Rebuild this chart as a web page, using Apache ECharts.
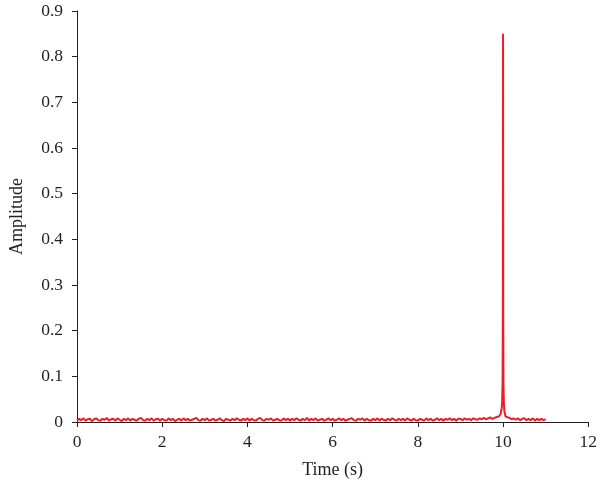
<!DOCTYPE html>
<html><head><meta charset="utf-8">
<script src="https://cdn.jsdelivr.net/npm/echarts@6/dist/echarts.min.js"></script>
<style>html,body{margin:0;padding:0;background:#fff}#c{width:600px;height:484px}</style>
</head><body><div id="c"></div>
<script>
// Baseline noise, sampled from t=0 to 9.85 s every 0.05 s
const noiseStart = 0, noiseStep = 0.05;
const noiseBefore = [
0.003,0.007,0.004,0.008,0.003,0.006,0.007,0.002,0.006,0.008,0.004,0.003,0.007,0.005,0.009,0.003,0.006,0.007,0.003,0.008,
0.005,0.002,0.007,0.004,0.008,0.003,0.007,0.005,0.003,0.007,0.009,0.004,0.003,0.007,0.004,0.008,0.003,0.006,0.007,0.003,
0.007,0.004,0.003,0.008,0.004,0.007,0.002,0.005,0.007,0.003,0.008,0.004,0.007,0.003,0.005,0.007,0.009,0.004,0.003,0.007,
0.004,0.008,0.003,0.005,0.007,0.003,0.005,0.008,0.004,0.002,0.007,0.005,0.003,0.007,0.004,0.008,0.005,0.003,0.007,0.004,
0.008,0.003,0.007,0.004,0.003,0.007,0.009,0.004,0.003,0.007,0.005,0.008,0.003,0.005,0.007,0.004,0.003,0.008,0.004,0.007,
0.003,0.007,0.004,0.008,0.005,0.003,0.007,0.004,0.009,0.003,0.007,0.004,0.008,0.003,0.005,0.007,0.003,0.005,0.008,0.004,
0.007,0.003,0.005,0.008,0.004,0.007,0.003,0.005,0.007,0.008,0.004,0.003,0.007,0.005,0.008,0.003,0.007,0.004,0.003,0.007,
0.004,0.008,0.003,0.007,0.005,0.003,0.007,0.004,0.008,0.005,0.003,0.007,0.004,0.007,0.003,0.008,0.005,0.003,0.007,0.004,
0.003,0.007,0.005,0.003,0.008,0.004,0.007,0.003,0.005,0.008,0.004,0.007,0.003,0.007,0.005,0.008,0.004,0.007,0.003,0.007,
0.007,0.004,0.008,0.005,0.007,0.004,0.008,0.006,0.005,0.008,0.006,0.009,0.006,0.008,0.010,0.007,0.009,0.011
];
// Peak region
const peakTimes  = [9.9,9.92,9.94,9.95,9.96,9.97,9.98,9.99,9.995,10.0,10.005,10.01,10.02,10.03,10.04,10.05,10.06,10.08,10.1];
const peakValues = [0.012,0.014,0.017,0.02,0.025,0.031,0.045,0.09,0.25,0.85,0.22,0.08,0.04,0.026,0.019,0.015,0.012,0.010,0.009];
// Tail noise from 10.15 to 11.0 s every 0.05 s
const tailStart = 10.15, tailStep = 0.05;
const noiseAfter = [0.009,0.006,0.008,0.005,0.008,0.004,0.007,0.008,0.004,0.007,0.004,0.008,0.003,0.007,0.004,0.007,0.004,0.006];

const xTicks = [0,2,4,6,8,10,12];
const yTicks = [0,0.1,0.2,0.3,0.4,0.5,0.6,0.7,0.8,0.9];

const data = [];
noiseBefore.forEach((v,i)=>data.push([+(noiseStart+i*noiseStep).toFixed(3), v]));
peakTimes.forEach((t,i)=>data.push([t, peakValues[i]]));
noiseAfter.forEach((v,i)=>data.push([+(tailStart+i*tailStep).toFixed(3), v]));

const font = 'Liberation Serif';
const axisCol = '#231f20';
const chart = echarts.init(document.getElementById('c'), null, {renderer:'canvas'});
chart.setOption({
  animation:false,
  grid:{left:71,right:9,top:11,bottom:62,containLabel:false},
  xAxis:{type:'value',min:xTicks[0],max:xTicks[xTicks.length-1],interval:2,
    name:'Time (s)',nameLocation:'middle',nameGap:39,
    nameTextStyle:{fontFamily:font,fontSize:18,color:axisCol},
    axisLine:{lineStyle:{color:axisCol,width:1}},
    axisTick:{show:true,inside:false,length:5,lineStyle:{color:axisCol}},
    axisLabel:{fontFamily:font,fontSize:17.5,color:axisCol,margin:11},
    splitLine:{show:false}},
  yAxis:{type:'value',min:yTicks[0],max:yTicks[yTicks.length-1],interval:0.1,
    name:'Amplitude',nameLocation:'middle',nameGap:51,
    nameTextStyle:{fontFamily:font,fontSize:18,color:axisCol},
    axisLine:{show:true,lineStyle:{color:axisCol,width:1}},
    axisTick:{show:true,inside:false,length:5,lineStyle:{color:axisCol}},
    axisLabel:{fontFamily:font,fontSize:17.5,color:axisCol,margin:14,formatter:v=>v===0?'0':v.toFixed(1)},
    splitLine:{show:false}},
  series:[{type:'line',data:data,showSymbol:false,symbol:'none',
    lineStyle:{color:'#ee1c25',width:2},itemStyle:{color:'#ee1c25'}}]
});
</script></body></html>
